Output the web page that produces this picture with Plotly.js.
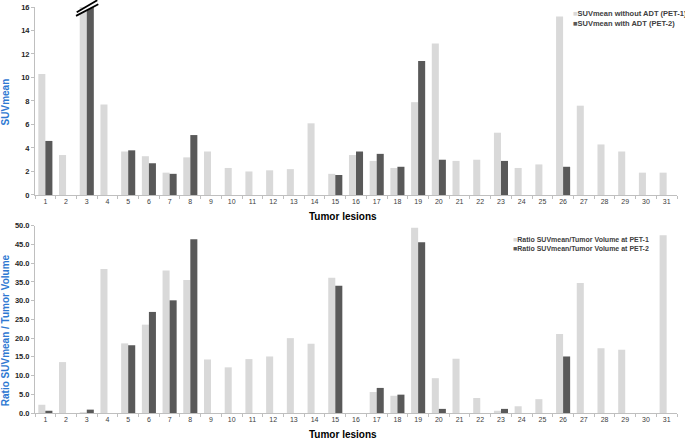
<!DOCTYPE html>
<html><head><meta charset="utf-8">
<script src="https://cdn.plot.ly/plotly-3.0.1.min.js"></script>
<style>html,body{margin:0;padding:0;background:#fff}</style>
</head><body><div id="chart" style="width:685px;height:439px"></div>
<script>
const lesions = ['1','2','3','4','5','6','7','8','9','10','11','12','13','14','15','16','17','18','19','20','21','22','23','24','25','26','27','28','29','30','31'];
const suvPet1 = [10.3,3.4,16,7.7,3.7,3.3,1.9,3.2,3.7,2.3,2.0,2.1,2.2,6.1,1.8,3.4,2.9,2.3,7.9,12.9,2.9,3.0,5.3,2.3,2.6,15.2,7.6,4.3,3.7,1.9,1.9];
const suvPet2 = [4.6,0,16,0,3.8,2.7,1.8,5.1,0,0,0,0,0,0,1.7,3.7,3.5,2.4,11.4,3.0,0,0,2.9,0,0,2.4,0,0,0,0,0];
const ratioPet1 = [2.2,13.6,0.2,38.5,18.6,23.6,38.1,35.5,14.3,12.2,14.4,15.1,20.0,18.5,36.1,0,5.6,4.6,49.5,9.3,14.5,4.0,0.6,1.8,3.7,21.1,34.7,17.3,16.9,0,47.5];
const ratioPet2 = [0.6,0,0.9,0,18.1,27.0,30.1,46.4,0,0,0,0,0,0,34.0,0,6.7,4.9,45.6,1.1,0,0,1.1,0,0,15.1,0,0,0,0,0];
const names = ['SUVmean without ADT (PET-1)','SUVmean with ADT (PET-2)','Ratio SUVmean/Tumor Volume at PET-1','Ratio SUVmean/Tumor Volume at PET-2'];
const yTitles = ['SUVmean','Ratio SUVmean / Tumor Volume'];
const xTitle = 'Tumor lesions';

const LIGHT = '#d9d9d9', DARK = '#595959';
const FONT = 'Liberation Sans, Arial, sans-serif';
const BLUE = '#2e78d2';

const traces = [
  {type:'bar', x:lesions, y:suvPet1, name:names[0], xaxis:'x', yaxis:'y', marker:{color:LIGHT}},
  {type:'bar', x:lesions, y:suvPet2, name:names[1], xaxis:'x', yaxis:'y', marker:{color:DARK}},
  {type:'bar', x:lesions, y:ratioPet1, name:names[2], xaxis:'x2', yaxis:'y2', marker:{color:LIGHT}},
  {type:'bar', x:lesions, y:ratioPet2, name:names[3], xaxis:'x2', yaxis:'y2', marker:{color:DARK}}
];
traces.forEach(t => { t.showlegend = false; t.hoverinfo = 'skip'; });

const xBase = {type:'category', showline:true, linecolor:'#bfbfbf', linewidth:1, ticks:'outside', ticklen:3,
  tickcolor:'#bfbfbf', tickson:'boundaries', showgrid:false, zeroline:false,
  tickfont:{family:FONT, size:7, color:'#404040'}};
const yBase = {showline:true, linecolor:'#bfbfbf', linewidth:1, ticks:'outside', ticklen:3, tickcolor:'#bfbfbf',
  showgrid:false, zeroline:false, tickfont:{family:FONT, size:7.5, color:'#262626', weight:'bold'}};

function legendText(color, label){
  return '<span style="color:' + color + '">■</span>' + label;
}
const legFont = {family:FONT, size:7.5, color:'#404040', weight:'bold'};
const legFont2 = {family:FONT, size:7, color:'#404040', weight:'bold'};
const titleFont = {family:FONT, size:10, color:BLUE, weight:'bold'};
const xtFont = {family:FONT, size:10, color:'#000', weight:'bold'};

const layout = {
  width:685, height:439,
  margin:{l:35, r:8, t:7, b:26},
  paper_bgcolor:'#fff', plot_bgcolor:'#fff',
  barmode:'group', bargap:0.32, bargroupgap:0,
  font:{family:FONT},
  xaxis:Object.assign({}, xBase, {anchor:'y', domain:[0,1]}),
  xaxis2:Object.assign({}, xBase, {anchor:'y2', domain:[0,1]}),
  yaxis:Object.assign({}, yBase, {anchor:'x', domain:[0.537,1], range:[0,16], dtick:2}),
  yaxis2:Object.assign({}, yBase, {anchor:'x2', domain:[0,0.461], range:[0,50], dtick:5, tickformat:'.1f'}),
  shapes:[
    {type:'line', xref:'x domain', yref:'y domain', x0:0.0645, y0:0.963, x1:0.098, y1:1.026, line:{color:'#fff', width:3.5}, layer:'above'},
    {type:'line', xref:'x domain', yref:'y domain', x0:0.065, y0:0.972, x1:0.097, y1:1.036, line:{color:'#000', width:1.8}, layer:'above'},
    {type:'line', xref:'x domain', yref:'y domain', x0:0.0639, y0:0.953, x1:0.0986, y1:1.015, line:{color:'#000', width:1.8}, layer:'above'}
  ],
  annotations:[
    {xref:'paper', yref:'paper', x:0.835, y:0.985, xanchor:'left', yanchor:'middle', showarrow:false, text:legendText(LIGHT, names[0]), font:legFont},
    {xref:'paper', yref:'paper', x:0.835, y:0.959, xanchor:'left', yanchor:'middle', showarrow:false, text:legendText(DARK, names[1]), font:legFont},
    {xref:'paper', yref:'paper', x:0.741, y:0.427, xanchor:'left', yanchor:'middle', showarrow:false, text:legendText(LIGHT, names[2]), font:legFont2},
    {xref:'paper', yref:'paper', x:0.741, y:0.404, xanchor:'left', yanchor:'middle', showarrow:false, text:legendText(DARK, names[3]), font:legFont2},
    {xref:'paper', yref:'paper', x:-0.0467, y:0.765, xanchor:'center', yanchor:'middle', textangle:-90, showarrow:false, text:yTitles[0], font:titleFont},
    {xref:'paper', yref:'paper', x:-0.0467, y:0.204, xanchor:'center', yanchor:'middle', textangle:-90, showarrow:false, text:yTitles[1], font:titleFont},
    {xref:'paper', yref:'paper', x:0.48, y:0.485, xanchor:'center', yanchor:'middle', showarrow:false, text:xTitle, font:xtFont},
    {xref:'paper', yref:'paper', x:0.48, y:-0.054, xanchor:'center', yanchor:'middle', showarrow:false, text:xTitle, font:xtFont}
  ]
};

Plotly.newPlot('chart', traces, layout, {displayModeBar:false, staticPlot:true});
</script></body></html>
